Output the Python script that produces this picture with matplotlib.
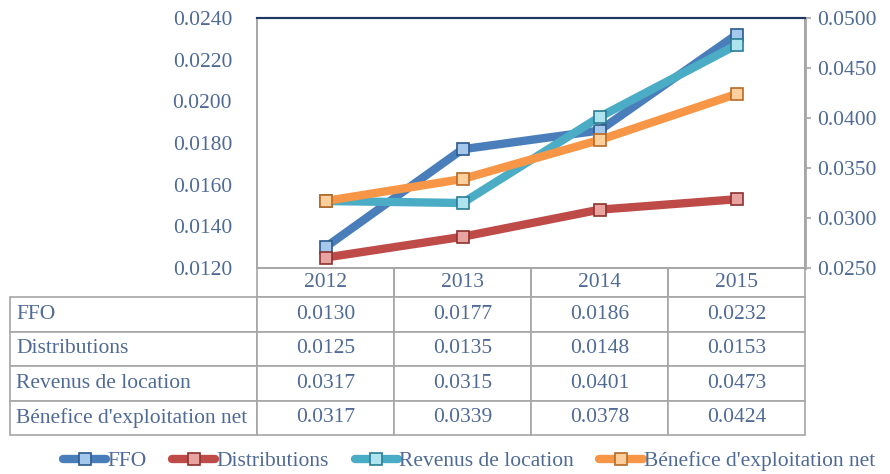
import matplotlib
matplotlib.use('Agg')
import matplotlib.pyplot as plt
from matplotlib.ticker import FormatStrFormatter, MultipleLocator
from matplotlib.table import Table

plt.rcParams['font.family'] = ['Liberation Serif', 'DejaVu Serif']

years = ['2012', '2013', '2014', '2015']
ffo = [0.0130, 0.0177, 0.0186, 0.0232]
distributions = [0.0125, 0.0135, 0.0148, 0.0153]
revenus = [0.0317, 0.0315, 0.0401, 0.0473]
benefice = [0.0317, 0.0339, 0.0378, 0.0424]
names = ['FFO', 'Distributions', 'Revenus de location', "Bénefice d'exploitation net"]

# (line, marker fill, marker edge)
styles = [
    ('#4A7EBB', '#A4C8EC', '#2C5A8C'),
    ('#BE4B48', '#E9A3A1', '#8C3230'),
    ('#4BACC6', '#AEE3F0', '#2A7D93'),
    ('#F79646', '#FCCF9C', '#B86A26'),
]
text_col = '#4F6A96'
grid_col = '#A6A6A6'
fs = 15.5

fig = plt.figure(figsize=(8.9, 4.74), dpi=100)
ax = fig.add_axes([257 / 890, 1 - 268 / 474, 548 / 890, 250 / 474])
ax2 = ax.twinx()

x = list(range(len(years)))
series = [ffo, distributions, revenus, benefice]
handles = []
for i, (vals, name) in enumerate(zip(series, names)):
    target = ax if i < 2 else ax2
    lc, mf, me = styles[i]
    h, = target.plot(x, vals, color=lc, lw=6, marker='s', markersize=8,
                     markerfacecolor=mf, markeredgecolor=me, markeredgewidth=1.2,
                     solid_joinstyle='round', solid_capstyle='round', label=name)
    handles.append(h)

ax.set_xlim(-0.5, len(years) - 0.5)
ax.set_ylim(0.012, 0.024)
ax.yaxis.set_major_locator(MultipleLocator(0.002))
ax.yaxis.set_major_formatter(FormatStrFormatter('%.4f'))
ax2.set_ylim(0.025, 0.050)
ax2.yaxis.set_major_locator(MultipleLocator(0.005))
ax2.yaxis.set_major_formatter(FormatStrFormatter('%.4f'))
ax.set_xticks([])

ax.tick_params(axis='y', length=0, pad=18, labelsize=fs, labelcolor=text_col)
ax2.tick_params(axis='y', direction='out', length=4, width=1.2, color=grid_col,
                pad=5, labelsize=fs, labelcolor=text_col)

for a in (ax, ax2):
    for s in a.spines.values():
        s.set_color(grid_col)
        s.set_linewidth(1.2)
    a.spines['top'].set_color('#1F3864')
    a.spines['top'].set_linewidth(1.5)
ax2.spines['right'].set_linewidth(2)

# data table under the plot
rows = [[name] + ['%.4f' % v for v in vals] for name, vals in zip(names, series)]
label_w = 247 / 548
col_w = 0.25
head_h = 29
row_h = 34.5
total_h = head_h + row_h * len(rows)
tab = Table(ax, bbox=[-label_w, -total_h / 250, 1 + label_w, total_h / 250])
for c in range(len(years) + 1):
    w = label_w if c == 0 else col_w
    txt = '' if c == 0 else years[c - 1]
    cell = tab.add_cell(0, c, w, head_h, text=txt, loc='center', edgecolor=grid_col)
    cell.set_linewidth(1.2)
    if c == 0:
        cell.visible_edges = ''
    else:
        cell.visible_edges = 'LRB'
for r, row in enumerate(rows, start=1):
    for c, txt in enumerate(row):
        w = label_w if c == 0 else col_w
        cell = tab.add_cell(r, c, w, row_h, text=txt,
                            loc='left' if c == 0 else 'center', edgecolor=grid_col)
        cell.set_linewidth(1.2)
        if c == 0:
            cell.PAD = 0.025
tab.auto_set_font_size(False)
for cell in tab.get_celld().values():
    cell.get_text().set_fontsize(fs)
    cell.get_text().set_color(text_col)
tab.set_clip_on(False)
ax.add_table(tab)

fig.legend(handles=handles, loc='center', bbox_to_anchor=(0.527, 0.027), ncol=4,
           frameon=False, fontsize=fs, handlelength=2.0, handletextpad=0.05,
           columnspacing=1.2, labelcolor=text_col)

fig.savefig('out.png', dpi=100)
